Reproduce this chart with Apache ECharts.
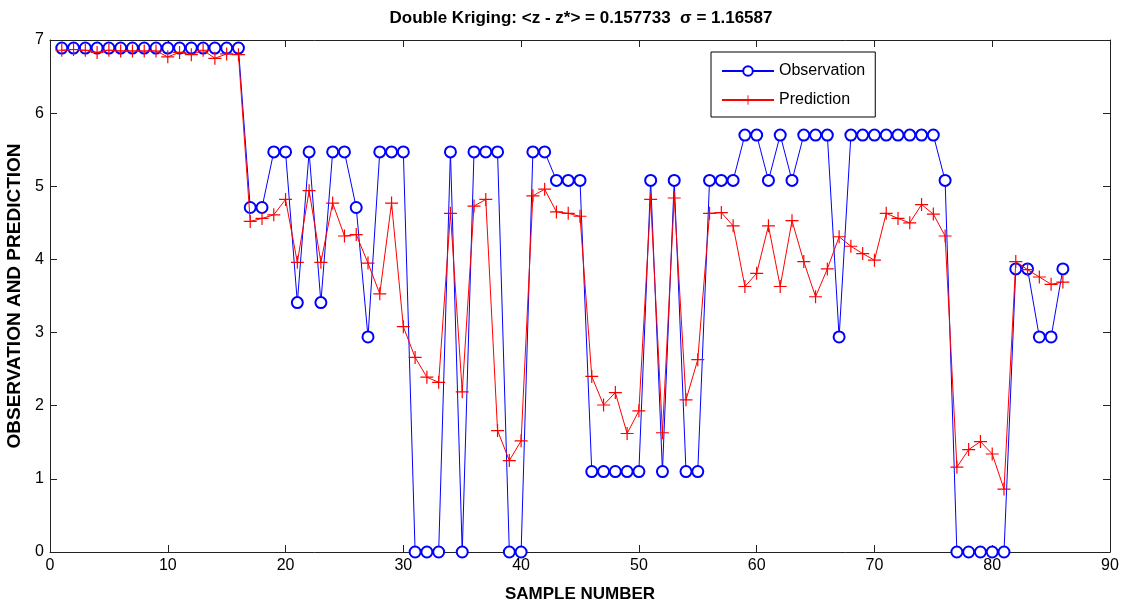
<!DOCTYPE html>
<html>
<head>
<meta charset="utf-8">
<script src="https://cdn.jsdelivr.net/npm/echarts@6/dist/echarts.min.js"></script>
<style>html,body{margin:0;padding:0;background:#fff}#c{width:1121px;height:605px}</style>
</head>
<body>
<div id="c"></div>
<script>
const samples = [1,2,3,4,5,6,7,8,9,10,11,12,13,14,15,16,17,18,19,20,21,22,23,24,25,26,27,28,29,30,
  31,32,33,34,35,36,37,38,39,40,41,42,43,44,45,46,47,48,49,50,51,52,53,54,55,56,57,58,59,60,
  61,62,63,64,65,66,67,68,69,70,71,72,73,74,75,76,77,78,79,80,81,82,83,84,85,86];
const observation = [6.89,6.89,6.89,6.89,6.89,6.89,6.89,6.89,6.89,6.89,6.89,6.89,6.89,6.89,6.89,6.89,
  4.71,4.71,5.47,5.47,3.41,5.47,3.41,5.47,5.47,4.71,2.94,5.47,5.47,5.47,
  0,0,0,5.47,0,5.47,5.47,5.47,0,0,5.47,5.47,5.08,5.08,5.08,
  1.10,1.10,1.10,1.10,1.10,5.08,1.10,5.08,1.10,1.10,5.08,5.08,5.08,5.70,5.70,
  5.08,5.70,5.08,5.70,5.70,5.70,2.94,5.70,5.70,5.70,5.70,5.70,5.70,5.70,5.70,5.08,
  0,0,0,0,0,3.87,3.87,2.94,2.94,3.87];
const prediction = [6.86,6.87,6.86,6.83,6.86,6.85,6.85,6.85,6.85,6.77,6.83,6.80,6.86,6.75,6.81,6.80,
  4.52,4.56,4.61,4.82,3.96,4.94,3.96,4.77,4.32,4.34,3.95,3.53,4.77,3.08,
  2.66,2.39,2.32,4.63,2.19,4.73,4.82,1.66,1.25,1.52,4.87,4.96,4.65,4.63,4.59,
  2.40,2.01,2.18,1.62,1.93,4.82,1.63,4.84,2.08,2.63,4.63,4.64,4.46,3.63,3.81,
  4.46,3.63,4.53,3.97,3.49,3.87,4.31,4.18,4.08,3.99,4.63,4.56,4.50,4.75,4.62,4.32,
  1.16,1.40,1.51,1.34,0.86,3.97,3.86,3.76,3.66,3.69];
const xTicks = [0,10,20,30,40,50,60,70,80,90];
const yTicks = [0,1,2,3,4,5,6,7];
const titleText = 'Double Kriging: <z - z*> = 0.157733  \u03c3 = 1.16587';

const obsData = samples.map((s,i)=>[s, observation[i]]);
const predData = samples.map((s,i)=>[s, prediction[i]]);
const plus = 'path://M0,5.45H12V6.55H0Z M5.45,0H6.55V12H5.45Z';
const narrow = '"Liberation Sans Narrow","Arial Narrow","Liberation Sans",sans-serif';
const axisCol = '#222';
const tickStyle = {show: true, inside: true, length: 7, lineStyle: {color: axisCol, width: 1}};

const chart = echarts.init(document.getElementById('c'), null, {renderer:'canvas'});
chart.setOption({
  animation: false,
  backgroundColor: '#fff',
  title: {
    text: titleText, left: 576, top: 5, textAlign: 'center',
    textStyle: {fontFamily: narrow, fontWeight: 'bold', fontSize: 17, color: '#000'}
  },
  legend: {
    orient: 'vertical', left: 711, top: 52,
    padding: [11, 10, 9, 10], itemGap: 13,
    itemWidth: 52, itemHeight: 12,
    borderColor: '#000', borderWidth: 1, backgroundColor: '#fff',
    textStyle: {fontFamily: '"Liberation Sans",Arial,sans-serif', fontSize: 16, color: '#000'},
    data: ['Observation', 'Prediction']
  },
  grid: {left: 50, right: 11, top: 40, bottom: 53, containLabel: false, outerBoundsMode: 'none'},
  xAxis: [{
    type: 'value', min: xTicks[0], max: xTicks[xTicks.length-1], interval: 10,
    name: 'SAMPLE NUMBER', nameLocation: 'middle', nameGap: 34,
    nameTextStyle: {fontFamily: narrow, fontWeight: 'bold', fontSize: 17, color: '#000'},
    axisLine: {show: true, onZero: false, lineStyle: {color: axisCol, width: 1}},
    axisTick: tickStyle,
    axisLabel: {fontFamily: narrow, fontSize: 16, color: '#000', margin: 6},
    splitLine: {show: false}
  },{
    type: 'value', position: 'top', min: xTicks[0], max: xTicks[xTicks.length-1], interval: 10,
    axisLine: {show: true, onZero: false, lineStyle: {color: axisCol, width: 1}},
    axisTick: tickStyle,
    axisLabel: {show: false}, splitLine: {show: false}
  }],
  yAxis: [{
    type: 'value', min: yTicks[0], max: yTicks[yTicks.length-1], interval: 1,
    name: 'OBSERVATION AND PREDICTION', nameLocation: 'middle', nameGap: 19,
    nameTextStyle: {fontFamily: '"Liberation Sans",Arial,sans-serif', fontWeight: 'bold', fontSize: 19, color: '#000'},
    axisLine: {show: true, onZero: false, lineStyle: {color: axisCol, width: 1}},
    axisTick: tickStyle,
    axisLabel: {fontFamily: narrow, fontSize: 16, color: '#000', margin: 6},
    splitLine: {show: false}
  },{
    type: 'value', position: 'right', min: yTicks[0], max: yTicks[yTicks.length-1], interval: 1,
    axisLine: {show: true, onZero: false, lineStyle: {color: axisCol, width: 1}},
    axisTick: tickStyle,
    axisLabel: {show: false}, splitLine: {show: false}
  }],
  series: [{
    name: 'Observation', type: 'line', data: obsData,
    symbol: 'emptyCircle', symbolSize: 11, showAllSymbol: true,
    lineStyle: {color: '#0000ff', width: 1},
    itemStyle: {color: '#0000ff', borderColor: '#0000ff', borderWidth: 1},
    emphasis: {disabled: true}, z: 2
  },{
    name: 'Prediction', type: 'line', data: predData,
    symbol: plus, symbolSize: 13, showAllSymbol: true,
    lineStyle: {color: '#ff0000', width: 1},
    itemStyle: {color: '#ff0000', borderWidth: 0},
    emphasis: {disabled: true}, z: 3
  },{
    name: 'frame', type: 'line', data: [], xAxisIndex: 1, yAxisIndex: 1,
    silent: true, symbol: 'none'
  }]
});
</script>
</body>
</html>
